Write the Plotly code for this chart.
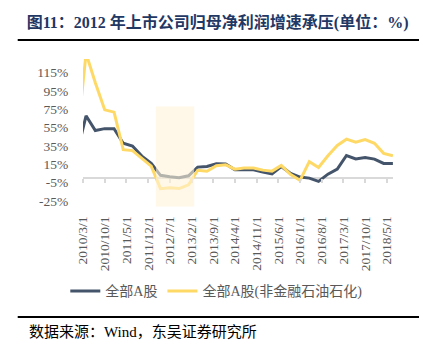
import plotly.graph_objects as go

# ---- data ----
dates = ["2009-12-31",
         "2010-03-31", "2010-06-30", "2010-09-30", "2010-12-31",
         "2011-03-31", "2011-06-30", "2011-09-30", "2011-12-31",
         "2012-03-31", "2012-06-30", "2012-09-30", "2012-12-31",
         "2013-03-31", "2013-06-30", "2013-09-30", "2013-12-31",
         "2014-03-31", "2014-06-30", "2014-09-30", "2014-12-31",
         "2015-03-31", "2015-06-30", "2015-09-30", "2015-12-31",
         "2016-03-31", "2016-06-30", "2016-09-30", "2016-12-31",
         "2017-03-31", "2017-06-30", "2017-09-30", "2017-12-31",
         "2018-03-31", "2018-06-30"]

all_a = [27,
         68, 52, 54, 54,
         38, 35, 24, 16,
         3, 1.5, 0.3, 2.5,
         12, 12.7, 15.6, 15.3,
         9, 9.5, 9, 6.5,
         4.7, 12.7, 5, 1.1,
         0, -3.6, 4.3, 9.8,
         24.7, 21, 22.5, 20.7,
         16, 16]

all_a_ex = [40,
            136, 104, 74.5, 72,
            31, 30, 22, 13,
            -11.5, -10.5, -11.4, -7.3,
            8.5, 7.5, 13.4, 14.5,
            9.8, 11, 11, 8.7,
            7.6, 13.8, 3.8, -2.5,
            18, 11.6, 24.3, 35.6,
            42.5, 39.2, 42, 38,
            27, 24.3]

series_names = ["全部A股", "全部A股(非金融石油石化)"]

tick_dates = ["2010-03-01", "2010-10-01", "2011-05-01", "2011-12-01", "2012-07-01",
              "2013-02-01", "2013-09-01", "2014-04-01", "2014-11-01", "2015-06-01",
              "2016-01-01", "2016-08-01", "2017-03-01", "2017-10-01", "2018-05-01"]
tick_labels = ["2010/3/1", "2010/10/1", "2011/5/1", "2011/12/1", "2012/7/1",
               "2013/2/1", "2013/9/1", "2014/4/1", "2014/11/1", "2015/6/1",
               "2016/1/1", "2016/8/1", "2017/3/1", "2017/10/1", "2018/5/1"]

y_ticks = [-25, -5, 15, 35, 55, 75, 95, 115]
y_tick_labels = ["-25%", "-5%", "15%", "35%", "55%", "75%", "95%", "115%"]

title_text = "<b>图11：2012 年上市公司归母净利润增速承压(单位：%)</b>"
source_text = "数据来源：Wind，东吴证券研究所"

# ---- figure ----
DARK = "#44546A"
GOLD = "#FFD966"
SERIF_CJK = "Liberation Serif, Noto Sans CJK SC"

fig = go.Figure()
fig.add_trace(go.Scatter(x=dates, y=all_a, mode="lines", name=series_names[0],
                         line=dict(color=DARK, width=3), hoverinfo="skip"))
fig.add_trace(go.Scatter(x=dates, y=all_a_ex, mode="lines", name=series_names[1],
                         line=dict(color=GOLD, width=3), hoverinfo="skip"))
# helper trace for the tick-mark axis sitting on the zero line
fig.add_trace(go.Scatter(x=dates, y=all_a, mode="lines", xaxis="x2", showlegend=False,
                         line=dict(color="rgba(0,0,0,0)", width=0), hoverinfo="skip"))

x_range = ["2010-03-01", "2018-07-01"]
y_range = [-25, 130]
zero_frac = (0 - y_range[0]) / (y_range[1] - y_range[0])

fig.update_layout(
    width=431, height=346,
    margin=dict(l=83, r=38, t=59, b=145),
    paper_bgcolor="white", plot_bgcolor="white",
    showlegend=True,
    title=dict(text=title_text, x=0.062, xanchor="left", xref="container",
               y=1 - 22 / 346, yanchor="middle", yref="container",
               font=dict(family=SERIF_CJK, size=16, color="#1F3864")),
    xaxis=dict(type="date", range=x_range, tickmode="array",
               tickvals=tick_dates, ticktext=tick_labels, tickangle=-90,
               ticks="outside", ticklen=9, tickcolor="rgba(0,0,0,0)",
               showgrid=False, showline=False, zeroline=False,
               tickfont=dict(family="Liberation Serif", size=13.5, color="#595959")),
    xaxis2=dict(type="date", range=x_range, overlaying="x", anchor="free",
                position=zero_frac, side="bottom", tickmode="array",
                tickvals=tick_dates, ticks="outside", ticklen=4, tickwidth=1.5,
                tickcolor="#D9D9D9", showticklabels=False, showgrid=False,
                showline=False, zeroline=False),
    yaxis=dict(range=y_range, tickmode="array", tickvals=y_ticks, ticktext=y_tick_labels,
               showgrid=False, showline=False,
               zeroline=True, zerolinecolor="#D9D9D9", zerolinewidth=1.5,
               ticks="outside", ticklen=11, tickcolor="rgba(0,0,0,0)",
               tickfont=dict(family="Liberation Serif", size=13.5, color="#595959")),
    legend=dict(orientation="h", x=0.43, xanchor="center", y=-0.636, yanchor="middle",
                font=dict(family=SERIF_CJK, size=14, color="#595959"),
                itemwidth=30, bgcolor="rgba(0,0,0,0)"),
)

# shaded highlight period (drawn above the lines, translucent)
fig.add_shape(type="rect", xref="x", yref="paper",
              x0="2012-02-15", x1="2013-02-25", y0=-0.039, y1=0.665,
              fillcolor="#FFF3D9", opacity=0.6, line=dict(width=0), layer="above")

# header / footer rules
for yy in (1.1336, -0.8165):
    fig.add_shape(type="line", xref="paper", yref="paper",
                  x0=-0.2106, x1=1.0839, y0=yy, y1=yy,
                  line=dict(color="black", width=2))

fig.add_annotation(text=source_text, xref="paper", yref="paper",
                   x=(27 - 83) / 310, xanchor="left", y=(201.2 - 332) / 142.2, yanchor="middle",
                   showarrow=False, font=dict(family=SERIF_CJK, size=15, color="black"))

fig.write_html("out.html")
